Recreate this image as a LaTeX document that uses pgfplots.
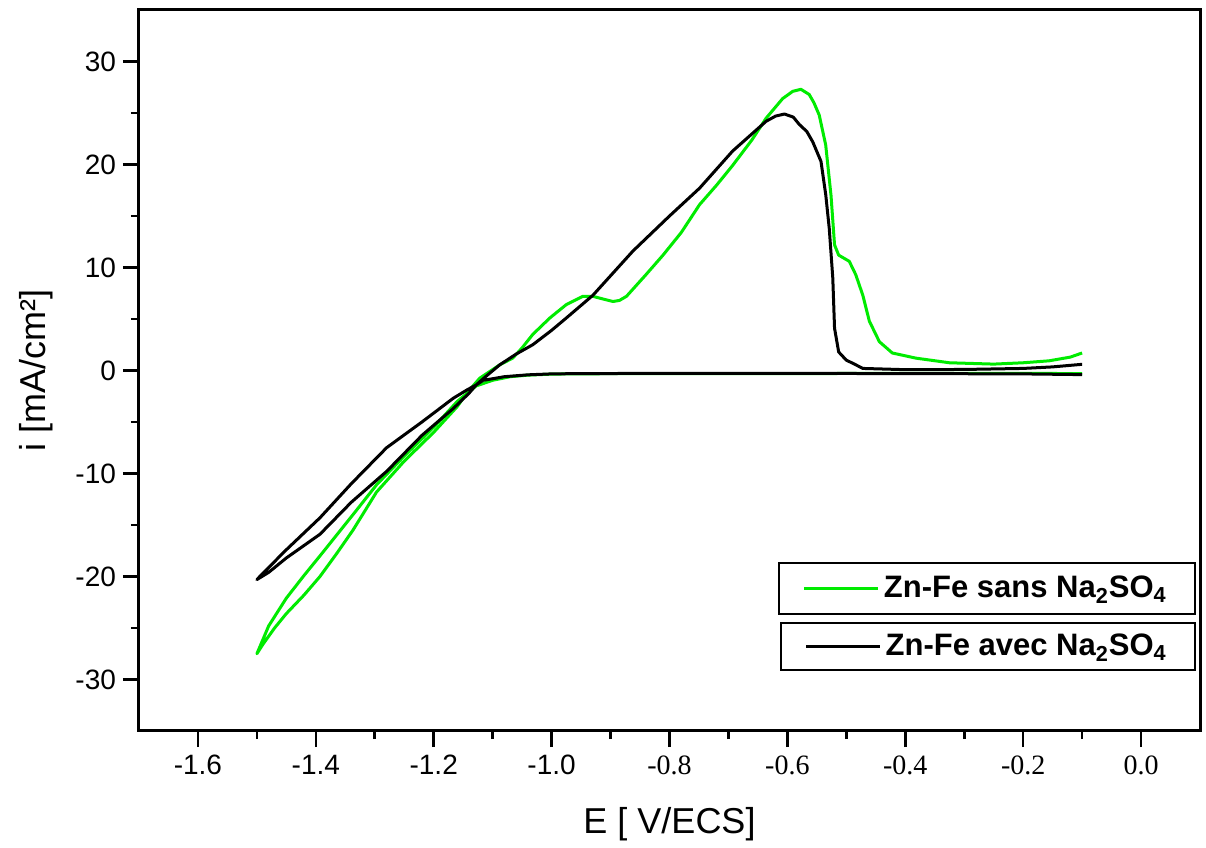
\documentclass[border=0pt]{standalone}
\usepackage{pgfplots}
\pgfplotsset{compat=1.18}
\usepackage{pgfplotstable}
\usepackage{fontspec}
\setmainfont{Liberation Sans}
\newfontfamily\serifnum{Liberation Serif}
\definecolor{vert}{RGB}{0,235,0}

\pgfplotstableread{
E i
-0.10 -0.30
-0.20 -0.28
-0.40 -0.28
-0.60 -0.30
-0.80 -0.30
-0.95 -0.32
-1.00 -0.35
-1.04 -0.45
-1.07 -0.60
-1.10 -0.95
-1.128 -1.50
-1.16 -3.0
-1.20 -5.5
-1.25 -8.3
-1.297 -11.1
-1.337 -14.0
-1.393 -18.0
-1.42 -19.9
-1.45 -22.1
-1.48 -24.8
-1.50 -27.5
-1.49 -26.6
-1.47 -25.0
-1.45 -23.6
-1.42 -21.8
-1.393 -20.0
-1.365 -17.8
-1.337 -15.5
-1.297 -11.8
-1.25 -8.8
-1.20 -6.0
-1.16 -3.5
-1.144 -2.2
-1.122 -0.75
-1.088 0.55
-1.066 1.2
-1.05 2.2
-1.032 3.5
-1.003 5.1
-0.975 6.4
-0.947 7.2
-0.93 7.2
-0.91 6.9
-0.896 6.7
-0.885 6.8
-0.873 7.2
-0.84 9.3
-0.811 11.2
-0.78 13.4
-0.749 16.1
-0.72 18.0
-0.693 19.9
-0.66 22.4
-0.636 24.5
-0.608 26.4
-0.591 27.1
-0.577 27.3
-0.563 26.8
-0.555 26.0
-0.546 24.8
-0.535 21.9
-0.526 17.0
-0.520 12.2
-0.513 11.2
-0.495 10.6
-0.484 9.3
-0.472 7.3
-0.461 4.8
-0.444 2.8
-0.422 1.7
-0.382 1.2
-0.325 0.75
-0.25 0.62
-0.20 0.75
-0.156 0.94
-0.12 1.3
-0.10 1.7
}\sans

\pgfplotstableread{
E i
-0.10 -0.40
-0.20 -0.33
-0.40 -0.30
-0.60 -0.28
-0.80 -0.28
-0.95 -0.30
-1.00 -0.33
-1.04 -0.42
-1.08 -0.60
-1.10 -0.80
-1.116 -0.95
-1.128 -1.40
-1.144 -1.9
-1.167 -2.7
-1.22 -5.0
-1.28 -7.5
-1.34 -11.0
-1.393 -14.3
-1.45 -17.4
-1.49 -19.7
-1.50 -20.3
-1.48 -19.6
-1.45 -18.2
-1.393 -15.9
-1.34 -12.8
-1.28 -9.8
-1.22 -6.3
-1.167 -3.7
-1.14 -2.2
-1.128 -1.4
-1.11 -0.5
-1.088 0.55
-1.06 1.6
-1.032 2.5
-1.00 3.9
-0.975 5.1
-0.93 7.3
-0.862 11.6
-0.80 15.0
-0.749 17.7
-0.693 21.3
-0.636 24.2
-0.62 24.7
-0.605 24.9
-0.59 24.6
-0.58 23.9
-0.567 23.2
-0.557 22.2
-0.543 20.3
-0.535 17.1
-0.529 13.8
-0.523 9.0
-0.520 4.1
-0.513 1.8
-0.50 1.0
-0.489 0.7
-0.472 0.2
-0.40 0.08
-0.30 0.1
-0.20 0.2
-0.15 0.35
-0.10 0.6
}\avec

\pgfplotsset{
  common/.style={
    width=530.5pt, height=360.5pt, scale only axis,
    xmin=-1.7, xmax=0.1, ymin=-35, ymax=35,
    legend image code/.code={\draw[##1] (0pt,0pt) -- (37pt,0pt);},
    legend style={draw=black, line width=1pt,
      font=\bfseries\fontsize{15.5}{18}\selectfont,
      inner xsep=12pt, inner ysep=4.5pt,
      nodes={inner sep=2pt},
      /tikz/every even column/.append style={column sep=2pt},
      anchor=north east},
  },
}

\begin{document}
\begin{tikzpicture}
\begin{axis}[common,
  axis line style={line width=1.5pt},
  tick align=outside,
  xtick pos=left, ytick pos=left,
  major tick length=8pt, minor tick length=4pt,
  every tick/.style={line width=1.3pt, black},
  minor x tick num=1, minor y tick num=1,
  xtick={-1.6,-1.4,-1.2,-1.0,-0.8,-0.6,-0.4,-0.2,0},
  xticklabels={-1.6,-1.4,-1.2,-1.0,{\serifnum -0.8},{\serifnum -0.6},{\serifnum -0.4},{\serifnum -0.2},{\serifnum 0.0}},
  ytick={-30,-20,-10,0,10,20,30},
  yticklabels={-30,-20,-10,0,10,20,30},
  ticklabel style={font=\fontsize{14}{16}\selectfont},
  xticklabel style={text height=10pt, text depth=0pt},
  xlabel={E [ V/ECS]},
  ylabel={i [mA/cm²]},
  every axis x label/.style={at={(axis description cs:0.5,0)}, yshift=-46.5pt, anchor=center, font=\fontsize{18}{21}\selectfont},
  every axis y label/.style={at={(axis description cs:0,0.5)}, xshift=-51.5pt, rotate=90, anchor=center, font=\fontsize{18}{21}\selectfont},
  legend style={at={(0.996,0.234)}},
]
\addplot[vert, line width=1.5pt, line join=round] table[x=E, y=i] {\sans};
\addlegendentry{Zn-Fe sans Na\textsubscript{2}SO\textsubscript{4}}
\end{axis}
\begin{axis}[common, hide axis,
  legend style={at={(0.996,0.151)}, inner ysep=3.5pt},
]
\addplot[black, line width=1.5pt, line join=round] table[x=E, y=i] {\avec};
\addlegendentry{Zn-Fe avec Na\textsubscript{2}SO\textsubscript{4}}
\end{axis}
\path (-69.5pt,-57pt) rectangle (533.5pt,365.5pt);
\end{tikzpicture}
\end{document}
